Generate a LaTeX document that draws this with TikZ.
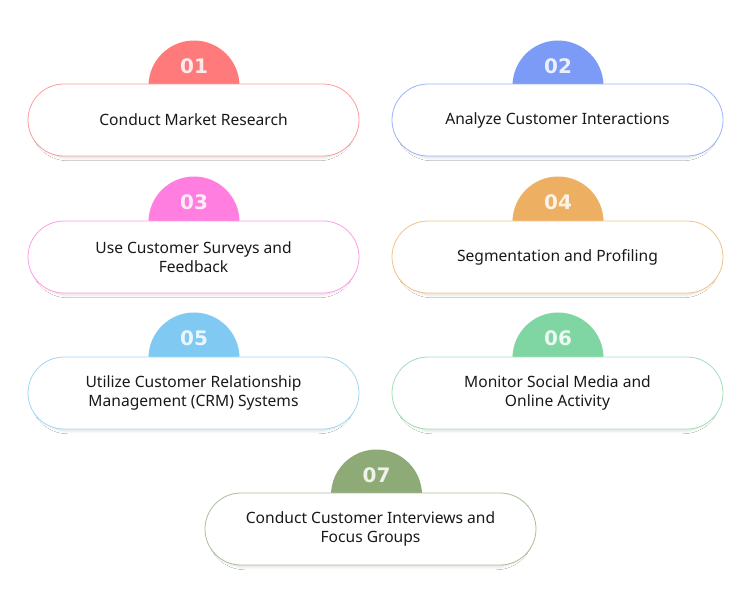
\documentclass[tikz,border=0pt]{standalone}
\usepackage{fontspec}
\setmainfont{Noto Sans}
\newfontfamily\numfont{DejaVu Sans}
\usetikzlibrary{shapes.misc, shadows.blur}

\definecolor{redA}{HTML}{FF7B7B}
\definecolor{blueA}{HTML}{7B9BF7}
\definecolor{pinkA}{HTML}{FF7EDF}
\definecolor{orangeA}{HTML}{EDAF62}
\definecolor{cyanA}{HTML}{80C9F2}
\definecolor{greenA}{HTML}{80D6A2}
\definecolor{oliveA}{HTML}{8EAA77}

\tikzset{
	stepbox/.style={rounded rectangle, draw=#1!75, line width=0.8pt, fill=white,
		minimum width=331pt, minimum height=72pt, inner sep=0pt, align=center,
		font=\fontsize{15.6}{19}\selectfont, text=black!90,
		blur shadow={shadow xshift=0pt, shadow yshift=-3pt, shadow scale=0.97,
			shadow blur radius=3pt, shadow blur steps=8, shadow opacity=14}},
	numcap/.style={circle, fill=#1, minimum size=91pt, inner sep=0pt},
	numtext/.style={text=white!85!#1, font=\numfont\bfseries\fontsize{20}{20}\selectfont}
}

\begin{document}
\begin{tikzpicture}[x=1pt, y=-1pt]
	\useasboundingbox[fill=white] (0,0) rectangle (752,600);
	
	% number caps behind the boxes
	\node[numcap=redA] (c1) at (194,86) {};
	\node[numcap=blueA] (c2) at (558,86) {};
	\node[numcap=pinkA] (c3) at (194,222) {};
	\node[numcap=orangeA] (c4) at (558,222) {};
	\node[numcap=cyanA] (c5) at (194,358) {};
	\node[numcap=greenA] (c6) at (558,358) {};
	\node[numcap=oliveA] (c7) at (376.5,495) {};
	
	\node[numtext=redA] (n1) at (194,66) {01};
	\node[numtext=blueA] (n2) at (558,66) {02};
	\node[numtext=pinkA] (n3) at (194,202) {03};
	\node[numtext=orangeA] (n4) at (558,202) {04};
	\node[numtext=cyanA] (n5) at (194,338) {05};
	\node[numtext=greenA] (n6) at (558,338) {06};
	\node[numtext=oliveA] (n7) at (376.5,475) {07};
	
	% the boxes
	\node[stepbox=redA] (b1) at (193.5,120) {Conduct Market Research};
	\node[stepbox=blueA] (b2) at (557.5,120) {Analyze Customer Interactions};
	\node[stepbox=pinkA] (b3) at (193.5,257) {Use Customer Surveys and\\Feedback};
	\node[stepbox=orangeA] (b4) at (557.5,257) {Segmentation and Profiling};
	\node[stepbox=cyanA] (b5) at (193.5,393) {Utilize Customer Relationship\\Management (CRM) Systems};
	\node[stepbox=greenA] (b6) at (557.5,393) {Monitor Social Media and\\Online Activity};
	\node[stepbox=oliveA] (b7) at (370.5,529) {Conduct Customer Interviews and\\Focus Groups};
\end{tikzpicture}
\end{document}
